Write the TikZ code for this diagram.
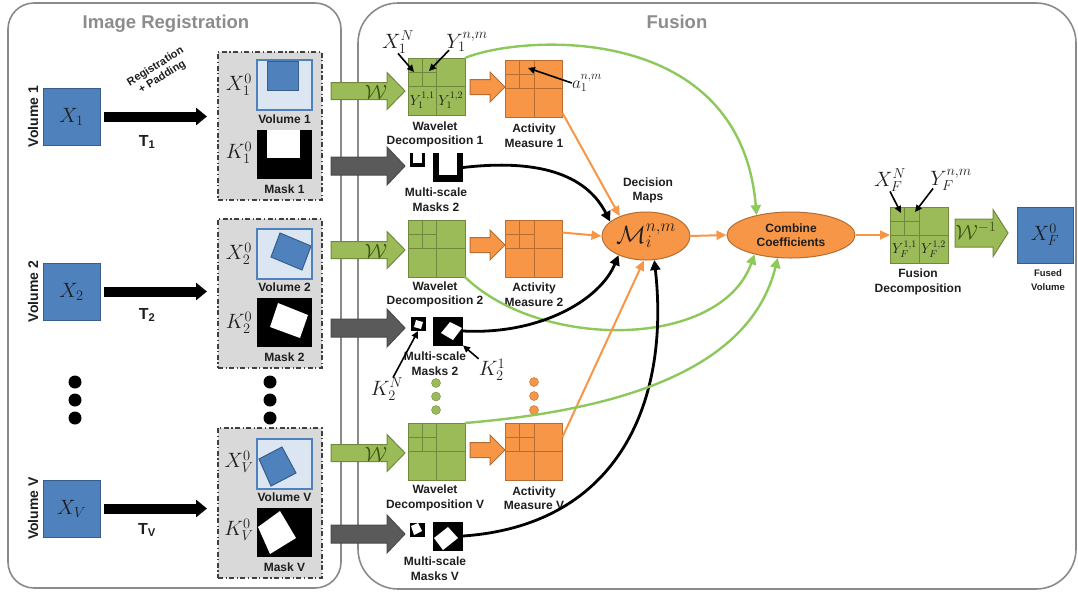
\documentclass[tikz,border=0pt]{standalone}
\usepackage{fontspec}
\newfontfamily\lab{Liberation Sans}
\usetikzlibrary{arrows.meta,calc,shapes.geometric}

\definecolor{volblue}{HTML}{4F81BD}
\definecolor{volblueD}{HTML}{385D8A}
\definecolor{paleblue}{HTML}{DCE6F2}
\definecolor{wgreen}{HTML}{9BBB59}
\definecolor{wgreenD}{HTML}{71893F}
\definecolor{wdark}{HTML}{3B5513}
\definecolor{lgreen}{HTML}{8CC85A}
\definecolor{aorange}{HTML}{F79646}
\definecolor{aorangeD}{HTML}{B66D31}
\definecolor{panelgray}{HTML}{D9D9D9}
\definecolor{titlegray}{HTML}{8C8C8C}
\definecolor{framegray}{HTML}{8A8A8A}
\definecolor{arrgray}{HTML}{5A5A5A}
\definecolor{ink}{HTML}{1E1E1E}

% block arrow: style, x start, x end, y centre, shaft half width, head half width, head length
\newcommand\blkarrow[7]{%
  \draw[#1] (#2,#4-#5) -- (#3-#7,#4-#5) -- (#3-#7,#4-#6) -- (#3,#4)
    -- (#3-#7,#4+#6) -- (#3-#7,#4+#5) -- (#2,#4+#5) -- cycle;}

% quad-tree subdivision lines inside a decomposition square
\newcommand\quadgrid[2]{%
  \draw[#2, line width=1pt]
    (#1.north) -- (#1.south)
    (#1.west) -- (#1.east)
    ($(#1.north west)!.25!(#1.north east)$) -- ($(#1.west)!.25!(#1.east)$)
    ($(#1.north west)!.25!(#1.south west)$) -- ($(#1.north)!.25!(#1.south)$);}

\tikzset{
  lbl/.style={font=\lab\bfseries\fontsize{12}{14.5}\selectfont, text=ink, align=center, inner sep=0pt},
  ttl/.style={font=\lab\bfseries\fontsize{18.5}{22}\selectfont, text=titlegray, inner sep=0pt},
  mlab/.style={inner sep=0pt, text=ink, font=\fontsize{#1}{#1}\selectfont},
  mlab/.default=20,
  panelframe/.style={draw=framegray, line width=1.6pt},
  regpanel/.style={draw=ink!85, fill=panelgray, line width=1.1pt,
    dash pattern=on 5pt off 2.5pt on 1.2pt off 2.5pt, minimum width=104pt, inner sep=0pt, outer sep=0pt},
  srcvol/.style={draw=volblueD, fill=volblue, line width=1pt, minimum size=57pt, inner sep=0pt,
    outer sep=0pt, text=ink, font=\fontsize{21}{21}\selectfont},
  thumb/.style={draw=volblue, fill=paleblue, line width=1.2pt, minimum width=55pt, minimum height=50pt, inner sep=0pt, outer sep=0pt},
  maskimg/.style={fill=black, minimum width=55pt, minimum height=49pt, inner sep=0pt, outer sep=0pt},
  smallmask/.style={fill=black, minimum width=15pt, minimum height=14pt, inner sep=0pt, outer sep=0pt},
  bigmask/.style={fill=black, minimum width=30pt, minimum height=29pt, inner sep=0pt, outer sep=0pt},
  wave/.style={draw=wgreenD, fill=wgreen, line width=1pt, minimum size=57pt, inner sep=0pt, outer sep=0pt},
  act/.style={draw=aorangeD, fill=aorange, line width=1pt, minimum size=57pt, inner sep=0pt, outer sep=0pt},
  decision/.style={ellipse, draw=aorangeD, fill=aorange, line width=1pt, inner sep=0pt},
  greenarr/.style={draw=wgreenD, fill=wgreen, line width=1pt},
  grayarr/.style={draw=ink!80, fill=arrgray, line width=1pt},
  orangearr/.style={draw=aorangeD, fill=aorange, line width=1pt},
  regarrow/.style={line width=10pt, -{Triangle[length=11pt,width=17pt]}, shorten <=4pt, shorten >=11pt},
  gcurve/.style={draw=lgreen, line width=2.4pt, -{Triangle[length=10pt,width=10pt]}},
  ocurve/.style={draw=aorange, line width=2pt, -{Triangle[length=10pt,width=9pt]}},
  kcurve/.style={draw=black, line width=2.8pt, -{Triangle[length=10pt,width=10pt]}},
  pointer/.style={draw=black, line width=1.6pt, -{Triangle[length=7pt,width=6.5pt]}},
  gdot/.style={circle, draw=wgreenD, fill=wgreen, minimum size=9pt, inner sep=0pt},
  odot/.style={circle, draw=aorangeD, fill=aorange, minimum size=9pt, inner sep=0pt},
  kdot/.style={circle, fill=black, minimum size=13pt, inner sep=0pt},
}

\begin{document}
\begin{tikzpicture}[x=1pt,y=-1pt]
\useasboundingbox (0,0) rectangle (1078,592);

% ---------- the two stages ----------
\draw[panelframe, rounded corners=26pt] (8,3) rectangle (341,588);
\draw[panelframe, rounded corners=40pt] (358,3) rectangle (1076,589);
\node[ttl] (regtitle) at (166,24) {Image Registration};
\node[ttl] (fustitle) at (677,22) {Fusion};

% ---------- input volumes ----------
\node[srcvol] (x1) at (71.5,116.5) {$X_1$};
\node[srcvol] (x2) at (71.5,291.5) {$X_2$};
\node[srcvol] (xv) at (71.5,508.5) {$X_V$};
\node[lbl, font=\lab\bfseries\fontsize{14}{16}\selectfont, rotate=90] (vn1) at (33,116.5) {Volume 1};
\node[lbl, font=\lab\bfseries\fontsize{14}{16}\selectfont, rotate=90] (vn2) at (33,291.5) {Volume 2};
\node[lbl, font=\lab\bfseries\fontsize{14}{16}\selectfont, rotate=90] (vnv) at (33,508.5) {Volume V};

\node[kdot] (d1) at (75,382) {};
\node[kdot] (d2) at (75,400) {};
\node[kdot] (d3) at (75,418) {};

% ---------- registered volumes and masks ----------
\node[regpanel, minimum height=148pt] (reg1) at (270,126) {};
\node[regpanel, minimum height=149pt] (reg2) at (270,293.5) {};
\node[regpanel, minimum height=150pt] (regv) at (270,503) {};

\draw[regarrow] (x1.east) -- (x1.east -| reg1.west);
\draw[regarrow] (x2.east) -- (x2.east -| reg2.west);
\draw[regarrow] (xv.east) -- (xv.east -| regv.west);
\node[lbl, font=\lab\bfseries\fontsize{16}{18}\selectfont] (t1) at (147,142) {T\textsubscript{1}};
\node[lbl, font=\lab\bfseries\fontsize{16}{18}\selectfont] (t2) at (147,315) {T\textsubscript{2}};
\node[lbl, font=\lab\bfseries\fontsize{16}{18}\selectfont] (tv) at (147,530) {T\textsubscript{V}};
\node[lbl, font=\lab\bfseries\fontsize{11}{12.5}\selectfont, rotate=32] (regpad) at (159,72) {Registration\\+ Padding};

% row 1
\node[thumb] (vi1) at (284.5,85) {};
\filldraw[fill=volblue, draw=volblueD, line width=1pt] (267,61) rectangle (298,90);
\node[maskimg] (mk1) at (284.5,154) {};
\fill[white] (267,129.5) rectangle (300,158);
\node[lbl] (vt1) at (284.5,119) {Volume 1};
\node[lbl] (mt1) at (284.5,189) {Mask 1};
\node[mlab=22] (x10) at (239,85) {$X_1^0$};
\node[mlab=22] (k10) at (239,153) {$K_1^0$};

% row 2
\node[thumb] (vi2) at (284.5,254) {};
\filldraw[fill=volblue, draw=volblueD, line width=1pt] (280,233) -- (311,246) -- (302,270) -- (271,257) -- cycle;
\node[maskimg] (mk2) at (284.5,322) {};
\fill[white] (278,303) -- (308,315) -- (300,338) -- (270,327) -- cycle;
\node[lbl] (vt2) at (284.5,287) {Volume 2};
\node[lbl] (mt2) at (284.5,357) {Mask 2};
\node[mlab=22] (x20) at (239,254) {$X_2^0$};
\node[mlab=22] (k20) at (239,323) {$K_2^0$};

% row V
\node[thumb] (vi3) at (284.5,464) {};
\filldraw[fill=volblue, draw=volblueD, line width=1pt] (282,447) -- (296,473) -- (271,486) -- (259,459) -- cycle;
\node[maskimg] (mk3) at (284.5,532.5) {};
\fill[white] (280,511) -- (296,538) -- (270,554) -- (258,527) -- cycle;
\node[lbl] (vt3) at (284.5,497) {Volume V};
\node[lbl] (mt3) at (284.5,567) {Mask V};
\node[mlab=22] (xv0) at (239,462) {$X_V^0$};
\node[mlab=22] (kv0) at (239,530) {$K_V^0$};

\node[kdot] (d4) at (270,382) {};
\node[kdot] (d5) at (270,400) {};
\node[kdot] (d6) at (270,418) {};

% ---------- wavelet transform and mask pyramids ----------
\blkarrow{greenarr}{331}{405}{91}{8.5}{18.5}{18}
\blkarrow{greenarr}{331}{405}{250}{8.5}{18.5}{18}
\blkarrow{greenarr}{331}{405}{453}{8.5}{18.5}{18}
\node[mlab=21, text=wdark] (w1) at (376,92) {$\mathcal{W}$};
\node[mlab=21, text=wdark] (w2) at (376,251) {$\mathcal{W}$};
\node[mlab=21, text=wdark] (w3) at (376,454) {$\mathcal{W}$};

\blkarrow{grayarr}{331}{405}{166}{9}{19}{18}
\blkarrow{grayarr}{331}{405}{328}{9}{19}{18}
\blkarrow{grayarr}{331}{405}{534}{9}{19}{18}

% wavelet decompositions
\node[wave] (wv1) at (436.5,86.5) {}; \quadgrid{wv1}{wgreenD}
\node[wave] (wv2) at (436.5,248.5) {}; \quadgrid{wv2}{wgreenD}
\node[wave] (wv3) at (436.5,451.5) {}; \quadgrid{wv3}{wgreenD}
\node[mlab=14] (y11) at ($(wv1.west)!.5!(wv1.south)$) {$Y_1^{1,1}$};
\node[mlab=14] (y12) at ($(wv1.east)!.5!(wv1.south)$) {$Y_1^{1,2}$};
\node[mlab=20] (x1n) at (398,42) {$X_1^N$};
\node[mlab=20] (y1n) at (467,42) {$Y_1^{n,m}$};
\coordinate (p1) at (414,72);
\coordinate (p2) at (429,71);
\draw[pointer] (x1n.south) -- (p1);
\draw[pointer] ($(y1n.south west)+(3,-2)$) -- (p2);
\node[lbl] (wl1) at (435,134.5) {Wavelet\\Decomposition 1};
\node[lbl] (wl2) at (435,294.5) {Wavelet\\Decomposition 2};
\node[lbl] (wl3) at (435,498) {Wavelet\\Decomposition V};

% activity measures
\blkarrow{orangearr}{470}{505}{87}{7.5}{15}{15}
\blkarrow{orangearr}{470}{505}{245}{7.5}{15}{15}
\blkarrow{orangearr}{470}{505}{450}{7.5}{15}{15}
\node[act] (ac1) at (534,88.5) {}; \quadgrid{ac1}{aorangeD}
\node[act] (ac2) at (534,248.5) {}; \quadgrid{ac2}{aorangeD}
\node[act] (ac3) at (534,451.5) {}; \quadgrid{ac3}{aorangeD}
\node[mlab=17] (a1) at (587,83) {$a_1^{n,m}$};
\coordinate (p3) at (528,68);
\draw[pointer] (a1.west) -- (p3);
\node[lbl] (al1) at (534,135.5) {Activity\\Measure 1};
\node[lbl] (al2) at (534,294.5) {Activity\\Measure 2};
\node[lbl] (al3) at (534,498) {Activity\\Measure V};

% multi-scale masks
\node[smallmask] (sm1) at (417.5,160) {};
\fill[white] (413,153) rectangle (422,163);
\node[bigmask] (bm1) at (448,167.5) {};
\fill[white] (439,153) rectangle (457,175);
\node[lbl] (ml1) at (436,199.5) {Multi-scale\\Masks 2};

\node[smallmask] (sm2) at (418,324) {};
\fill[white] (416,320) -- (423,322) -- (421,329) -- (414,327) -- cycle;
\node[bigmask] (bm2) at (448,331) {};
\fill[white] (450,322) -- (462,328) -- (453,340) -- (441,333) -- cycle;
\node[lbl] (ml2) at (435,363.5) {Multi-scale\\Masks 2};
\node[mlab=20] (k2n) at (387,389) {$K_2^N$};
\node[mlab=20] (k21) at (492,370) {$K_2^1$};
\draw[pointer] ($(k2n.north)+(6,0)$) -- (sm2.south);
\draw[pointer] (k21.north west) -- (bm2.south east);

\node[smallmask] (sm3) at (417,530) {};
\fill[white] (411,526) -- (418,523) -- (422,531) -- (414,535) -- cycle;
\node[bigmask] (bm3) at (448,536) {};
\fill[white] (448,527) -- (458,538) -- (443,550) -- (434,538) -- cycle;
\node[lbl] (ml3) at (435,568.5) {Multi-scale\\Masks V};

\node[gdot] (g1) at (436,383) {};
\node[gdot] (g2) at (436,396.5) {};
\node[gdot] (g3) at (436,410) {};
\node[odot] (o1) at (534,382) {};
\node[odot] (o2) at (534,396) {};
\node[odot] (o3) at (534,410) {};

% ---------- decision maps and combination ----------
\node[decision, mlab=24, minimum width=88pt, minimum height=48pt] (dm) at (646,236) {$\mathcal{M}_i^{n,m}$};
\node[lbl] (dml) at (648,190.5) {Decision\\Maps};
\node[decision, lbl, font=\lab\bfseries\fontsize{12}{14}\selectfont, minimum width=128pt, minimum height=46pt] (cc) at (791,235) {Combine\\Coefficients};

% fused decomposition and reconstruction
\node[wave, minimum width=58pt, minimum height=56pt] (fd) at (919,235) {}; \quadgrid{fd}{wgreenD}
\node[mlab=14] (yf11) at ($(fd.west)!.5!(fd.south)$) {$Y_F^{1,1}$};
\node[mlab=14] (yf12) at ($(fd.east)!.5!(fd.south)$) {$Y_F^{1,2}$};
\node[mlab=20] (xfn) at (890,180) {$X_F^N$};
\node[mlab=20] (yfn) at (951,180) {$Y_F^{n,m}$};
\coordinate (p4) at (901,213);
\coordinate (p5) at (915,212);
\draw[pointer] (xfn.south) -- (p4);
\draw[pointer] ($(yfn.south west)+(3,-2)$) -- (p5);
\node[lbl] (fdl) at (918,282) {Fusion\\Decomposition};

\blkarrow{greenarr}{955}{1008}{233}{14}{23.5}{15}
\node[mlab=20, text=wdark] (winv) at (976,231) {$\mathcal{W}^{-1}$};
\node[srcvol, minimum size=56pt, font=\fontsize{22}{22}\selectfont] (fv) at (1045,235) {$X_F^0$};
\node[lbl, font=\lab\bfseries\fontsize{9.5}{13.5}\selectfont] (fvl) at (1048,280) {Fused\\Volume};

% ---------- connections ----------
\draw[gcurve] (wv1.north east) .. controls (520,35) and (740,20) .. (cc.150);
\draw[ocurve] ([yshift=4pt]ac1.south east) -- (dm.143);
\draw[kcurve] (bm1.east) .. controls (545,158) and (588,178) .. (dm.158);
\draw[ocurve] ($(ac2.north east)!.22!(ac2.south east)$) -- (dm.west);
\draw[gcurve] (wv2.south east) .. controls (540,350) and (720,350) .. (cc.208);
\draw[kcurve] (bm2.east) .. controls (540,335) and (600,300) .. (dm.215);
\draw[ocurve] ([yshift=-14pt]ac3.north east) -- (dm.265);
\draw[kcurve] (bm3.east) .. controls (620,525) and (670,400) .. (dm.289);
\draw[gcurve] (wv3.north east) .. controls (620,410) and (750,370) .. (cc.240);
\draw[ocurve] (dm.east) -- (cc.west);
\draw[ocurve] (cc.east) -- (fd.west);
\end{tikzpicture}
\end{document}
